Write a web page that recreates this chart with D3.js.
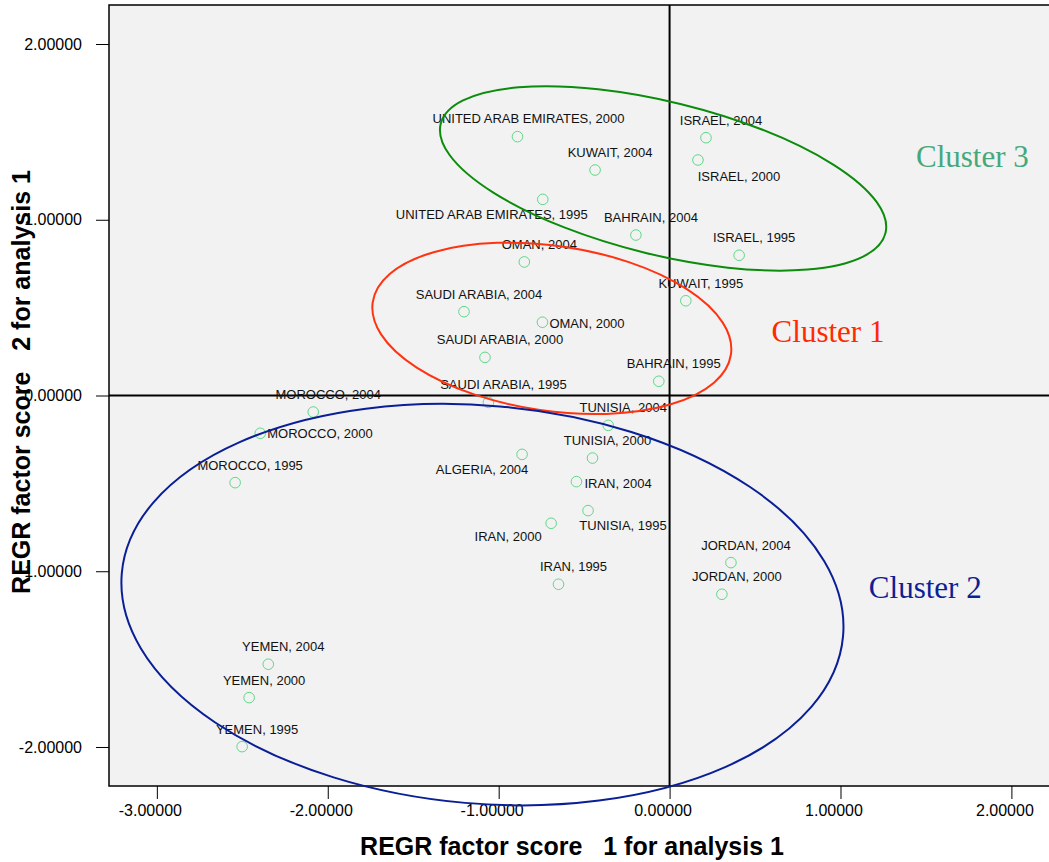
<!DOCTYPE html>
<html>
<head>
<meta charset="utf-8">
<script src="https://cdn.jsdelivr.net/npm/d3@7"></script>
<style>
  html, body { margin: 0; padding: 0; background: #ffffff; }
  svg { display: block; }
  text { font-family: "Liberation Sans", Arial, sans-serif; }
  text.cluster-name { font-family: "Liberation Serif", "Times New Roman", serif; }
</style>
</head>
<body>
<svg id="chart" width="1049" height="862"></svg>
<script>
// Country-year observations: REGR factor scores from the two-factor solution
const pointLabels = [
  "UNITED ARAB EMIRATES, 2000", "KUWAIT, 2004", "UNITED ARAB EMIRATES, 1995",
  "BAHRAIN, 2004", "OMAN, 2004", "ISRAEL, 2004", "ISRAEL, 2000", "ISRAEL, 1995",
  "KUWAIT, 1995", "SAUDI ARABIA, 2004", "OMAN, 2000", "SAUDI ARABIA, 2000",
  "BAHRAIN, 1995", "SAUDI ARABIA, 1995", "MOROCCO, 2004", "MOROCCO, 2000",
  "MOROCCO, 1995", "TUNISIA, 2004", "ALGERIA, 2004", "TUNISIA, 2000",
  "IRAN, 2004", "TUNISIA, 1995", "IRAN, 2000", "IRAN, 1995",
  "JORDAN, 2004", "JORDAN, 2000", "YEMEN, 2004", "YEMEN, 2000", "YEMEN, 1995"
];
const factor1 = [
  -0.890, -0.436, -0.742,
  -0.197, -0.850, 0.213, 0.166, 0.407,
  0.095, -1.203, -0.744, -1.080,
  -0.063, -1.060, -2.085, -2.395,
  -2.542, -0.359, -0.863, -0.451,
  -0.545, -0.477, -0.693, -0.650,
  0.359, 0.306, -2.348, -2.460, -2.501
];
const factor2 = [
  1.473, 1.283, 1.116,
  0.913, 0.760, 1.467, 1.340, 0.798,
  0.539, 0.477, 0.417, 0.217,
  0.081, -0.039, -0.094, -0.215,
  -0.496, -0.170, -0.335, -0.356,
  -0.490, -0.655, -0.727, -1.074,
  -0.951, -1.131, -1.529, -1.719, -1.998
];

const xTickValues = [-3, -2, -1, 0, 1, 2];
const yTickValues = [-2, -1, 0, 1, 2];

// Cluster names and the centre of each grouping (in factor-score units)
const clusterNames = ["Cluster 1", "Cluster 2", "Cluster 3"];
const clusterCentreX = [-0.689, -1.095, -0.038];
const clusterCentreY = [0.382, -1.190, 1.235];

// Where each cluster name is written, in factor-score units
const clusterTextX = [0.927, 1.496, 1.772];
const clusterTextY = [0.304, -1.152, 1.300];

// ----- layout -----
const margin = { left: 109, top: 5, right: 0, bottom: 76 };
const W = 1049, H = 862;
const svg = d3.select("#chart");

const x = d3.scaleLinear().domain([-3.28, 2.22]).range([margin.left, W - margin.right]);
const y = d3.scaleLinear().domain([-2.222, 2.222]).range([H - margin.bottom, margin.top]);

// Ellipse outlines: semi-axes (px), tilt (deg), colour
const ellipseStyle = [
  { rx: 181, ry: 82.5, tilt: 8.3,  stroke: "#ff3311" },
  { rx: 362, ry: 199,  tilt: 5.0,  stroke: "#0a1e96" },
  { rx: 229, ry: 76.5, tilt: 13.8, stroke: "#0b8c0b" }
];
const clusterTextColor = ["#ff2a00", "#0d1f94", "#45a87c"];

// Label nudges (px) for observations whose name sits away from the default spot
const defaultNudge = { dx: 15, dy: -13, anchor: "middle" };
const labelNudge = {
  "UNITED ARAB EMIRATES, 1995": { dx: -51, dy: 20, anchor: "middle" },
  "ISRAEL, 2000": { dx: 41, dy: 21, anchor: "middle" },
  "OMAN, 2000": { dx: 7, dy: 6, anchor: "start" },
  "MOROCCO, 2000": { dx: 7, dy: 5, anchor: "start" },
  "ALGERIA, 2004": { dx: -40, dy: 20, anchor: "middle" },
  "IRAN, 2004": { dx: 8, dy: 6, anchor: "start" },
  "TUNISIA, 1995": { dx: 35, dy: 19, anchor: "middle" },
  "IRAN, 2000": { dx: -43, dy: 18, anchor: "middle" },
  "UNITED ARAB EMIRATES, 2000": { dx: 11, dy: -14, anchor: "middle" }
};

const plotW = x.range()[1] - x.range()[0];
const plotH = y.range()[0] - y.range()[1];

// plot background
svg.append("rect")
  .attr("x", margin.left).attr("y", margin.top)
  .attr("width", plotW + 2).attr("height", plotH)
  .attr("fill", "#f2f2f2")
  .attr("stroke", "#000").attr("stroke-width", 1.5);

// axes (plain hyphen-minus in tick labels)
const fmt = d => d.toFixed(5);
const xAxis = d3.axisBottom(x).tickValues(xTickValues).tickFormat(fmt).tickSize(13).tickSizeOuter(0);
const yAxis = d3.axisLeft(y).tickValues(yTickValues).tickFormat(fmt).tickSize(13).tickSizeOuter(0);

const gx = svg.append("g").attr("transform", `translate(0,${y.range()[0]})`).call(xAxis);
gx.select(".domain").remove();
gx.selectAll(".tick line").attr("stroke", "#000").attr("stroke-width", 1);
gx.selectAll(".tick text")
  .style("font-family", "'Liberation Sans', Arial, sans-serif")
  .style("font-size", "16px").attr("fill", "#000")
  .attr("dx", -7).attr("y", 19);

const gy = svg.append("g").attr("transform", `translate(${x.range()[0]},0)`).call(yAxis);
gy.select(".domain").remove();
gy.selectAll(".tick line").attr("stroke", "#000").attr("stroke-width", 1);
gy.selectAll(".tick text")
  .style("font-family", "'Liberation Sans', Arial, sans-serif")
  .style("font-size", "16px").attr("fill", "#000")
  .attr("x", -27);

// reference lines through the origin
svg.append("line")
  .attr("x1", x(0)).attr("x2", x(0))
  .attr("y1", y.range()[1]).attr("y2", y.range()[0])
  .attr("stroke", "#000").attr("stroke-width", 2);
svg.append("line")
  .attr("x1", x.range()[0]).attr("x2", x.range()[1])
  .attr("y1", y(0)).attr("y2", y(0))
  .attr("stroke", "#000").attr("stroke-width", 2);

// observations
const pts = pointLabels.map((name, i) => ({ name, f1: factor1[i], f2: factor2[i] }));

svg.append("g").selectAll("circle").data(pts).join("circle")
  .attr("cx", d => x(d.f1)).attr("cy", d => y(d.f2))
  .attr("r", 5.3)
  .attr("fill", "none")
  .attr("stroke", "#5fd887").attr("stroke-width", 1);

svg.append("g").selectAll("text").data(pts).join("text")
  .attr("x", d => x(d.f1) + (labelNudge[d.name] || defaultNudge).dx)
  .attr("y", d => y(d.f2) + (labelNudge[d.name] || defaultNudge).dy)
  .attr("text-anchor", d => (labelNudge[d.name] || defaultNudge).anchor)
  .style("font-size", "13px").attr("fill", "#111")
  .text(d => d.name);

// cluster outlines and names
clusterNames.forEach((c, i) => {
  const s = ellipseStyle[i];
  svg.append("ellipse")
    .attr("cx", 0).attr("cy", 0)
    .attr("rx", s.rx).attr("ry", s.ry)
    .attr("transform", `translate(${x(clusterCentreX[i])},${y(clusterCentreY[i])}) rotate(${s.tilt})`)
    .attr("fill", "none")
    .attr("stroke", s.stroke).attr("stroke-width", 2);

  svg.append("text")
    .attr("class", "cluster-name")
    .attr("x", x(clusterTextX[i])).attr("y", y(clusterTextY[i]))
    .attr("text-anchor", "middle")
    .style("font-size", "31px")
    .attr("fill", clusterTextColor[i])
    .text(c);
});

// axis titles
svg.append("text")
  .attr("x", 572).attr("y", 855)
  .attr("text-anchor", "middle")
  .style("font-weight", "bold").style("font-size", "25px")
  .style("white-space", "pre")
  .text("REGR factor score   1 for analysis 1");

svg.append("text")
  .attr("transform", "translate(30,382) rotate(-90)")
  .attr("text-anchor", "middle")
  .style("font-weight", "bold").style("font-size", "25px")
  .style("white-space", "pre")
  .text("REGR factor score   2 for analysis 1");
</script>
</body>
</html>
